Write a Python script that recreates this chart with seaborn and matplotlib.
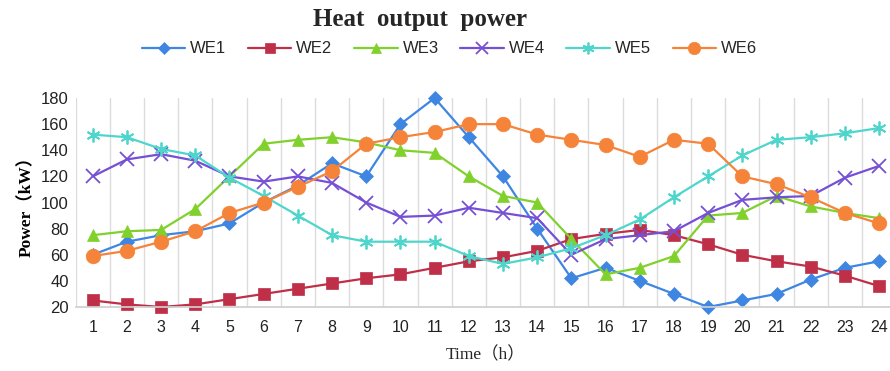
import matplotlib
matplotlib.use("Agg")
import matplotlib.pyplot as plt
import seaborn as sns
import pandas as pd

hours = list(range(1, 25))
series_names = ["WE1", "WE2", "WE3", "WE4", "WE5", "WE6"]
we1 = [60, 70, 75, 78, 84, 100, 113, 130, 120, 160, 180, 150, 120, 80, 42, 50, 40, 30, 20, 25, 30, 41, 50, 55]
we2 = [25, 22, 20, 22, 26, 30, 34, 38, 42, 45, 50, 55, 58, 63, 72, 76, 79, 75, 68, 60, 55, 51, 44, 36]
we3 = [75, 78, 79, 95, 120, 145, 148, 150, 146, 140, 138, 120, 105, 100, 72, 45, 50, 59, 90, 92, 105, 97, 92, 88]
we4 = [120, 133, 137, 132, 120, 116, 120, 115, 100, 89, 90, 96, 92, 88, 60, 72, 75, 78, 92, 102, 104, 105, 119, 128]
we5 = [152, 150, 141, 136, 119, 105, 90, 75, 70, 70, 70, 59, 53, 58, 65, 75, 87, 104, 120, 136, 148, 150, 153, 157]
we6 = [59, 63, 70, 78, 92, 100, 112, 124, 145, 150, 154, 160, 160, 152, 148, 144, 135, 148, 145, 120, 114, 104, 92, 84]
y_ticks = [20, 40, 60, 80, 100, 120, 140, 160, 180]

values = [we1, we2, we3, we4, we5, we6]
df = pd.DataFrame({
    "Time": hours * len(series_names),
    "Power": [v for vals in values for v in vals],
    "Series": [n for n in series_names for _ in hours],
})

colors = ["#3F86E2", "#BF2F48", "#80D12C", "#7650D4", "#4FD6CC", "#F5843A"]
markers = ["D", "s", "^", "x", (6, 2, 0), "o"]
msizes = [7.5, 9, 8.5, 10, 10, 10.5]

sns.set_theme(style="white")
fig = plt.figure(figsize=(8.9, 3.71), dpi=100)
ax = fig.add_axes([0.085, 0.1725, 0.92, 0.5633])

for name, col, mk, ms in zip(series_names, colors, markers, msizes):
    sub = df[df["Series"] == name]
    sns.lineplot(data=sub, x="Time", y="Power", ax=ax, color=col, marker=mk,
                 markersize=ms, linewidth=1.6, label=name, clip_on=False,
                 markeredgecolor=col, markeredgewidth=1.3 if mk in ("x", (6, 2, 0)) else 0.5)

ax.set_xlim(0.5, 24.45)
ax.set_ylim(20, 180)
ax.set_xticks(hours)
ax.set_xticklabels([str(h) for h in hours])
ax.set_yticks(y_ticks)
for b in [h + 0.5 for h in hours[:-1]] + [0.5]:
    ax.axvline(b, color="#DCDCDC", linewidth=1.0, zorder=0)
for s in ["top", "right", "left"]:
    ax.spines[s].set_visible(False)
ax.spines["bottom"].set_color("#CFCFCF")
ax.tick_params(axis="x", length=0, labelsize=11.5, colors="#222222", pad=9)
ax.tick_params(axis="y", length=0, labelsize=12, colors="#222222", pad=5)
for lab in ax.get_xticklabels() + ax.get_yticklabels():
    lab.set_family("Liberation Sans")

ax.set_xlabel("Time（h）", family=["Liberation Serif", "Noto Sans CJK SC"], fontsize=12.5, labelpad=9)
ax.set_ylabel("Power（kW）", family=["Liberation Serif", "Noto Sans CJK SC"], fontsize=12.5,
              fontweight="bold", labelpad=4, color="black")

fig.text(0.472, 0.948, "Heat  output  power", ha="center", va="center",
         family="Liberation Serif", fontweight="bold", fontsize=18)

handles, labels = ax.get_legend_handles_labels()
if ax.legend_:
    ax.legend_.remove()
fig.legend(handles, labels, loc="center", bbox_to_anchor=(0.505, 0.868), ncol=6,
           frameon=False, handlelength=2.6, columnspacing=1.3, markerscale=0.85,
           handletextpad=0.3, prop={"family": "Liberation Sans", "size": 12})

fig.savefig("out.png", dpi=100)
